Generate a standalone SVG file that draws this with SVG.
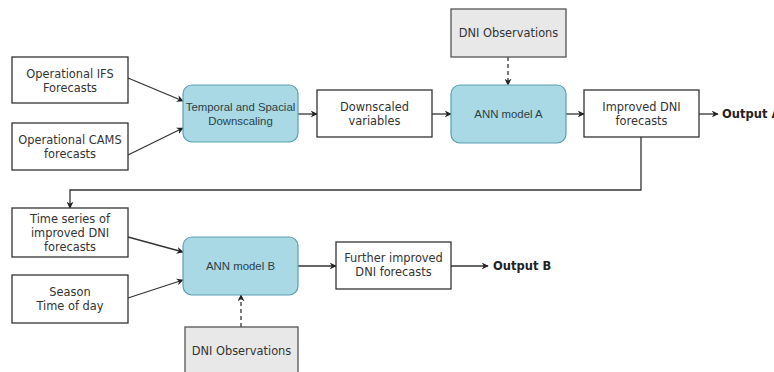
<svg xmlns="http://www.w3.org/2000/svg" width="774" height="372" viewBox="0 0 774 372">
  <style>
    .box { fill: #ffffff; stroke: #333333; stroke-width: 1.3; }
    .obs { fill: #e8e8e8; stroke: #555555; stroke-width: 1.3; }
    .model { fill: #a9d9e4; stroke: #5a9fb1; stroke-width: 1.2; }
    .t { font-family: "DejaVu Sans", Verdana, sans-serif; font-size: 11.4px; fill: #333333; text-anchor: middle; }
    .tm { font-family: "Liberation Sans", Arial, sans-serif; font-size: 11.4px; fill: #2b3f47; text-anchor: middle; }
    .out { font-family: "DejaVu Sans", Verdana, sans-serif; font-size: 11.5px; font-weight: bold; fill: #222222; }
    .edge { fill: none; stroke: #333333; stroke-width: 1.3; }
    .dash { stroke-dasharray: 4 3; }
  </style>
  <defs>
    <marker id="arrow" viewBox="0 0 10 10" refX="9" refY="5" markerWidth="7" markerHeight="7" markerUnits="userSpaceOnUse" orient="auto">
      <path d="M0,0 L10,5 L0,10 L3,5 Z" fill="#222222"/>
    </marker>
  </defs>
  <rect width="774" height="372" fill="#ffffff"/>

  <!-- connectors -->
  <g id="connectors">
    <line class="edge" x1="128" y1="78" x2="183" y2="101" marker-end="url(#arrow)"/>
    <line class="edge" x1="128" y1="155" x2="183" y2="128" marker-end="url(#arrow)"/>
    <line class="edge" x1="298" y1="114" x2="317" y2="114" marker-end="url(#arrow)"/>
    <line class="edge" x1="432" y1="114" x2="451" y2="114" marker-end="url(#arrow)"/>
    <line class="edge dash" x1="508" y1="57" x2="508" y2="85" marker-end="url(#arrow)"/>
    <line class="edge" x1="566" y1="114" x2="584" y2="114" marker-end="url(#arrow)"/>
    <line class="edge" x1="699" y1="114" x2="718" y2="114" marker-end="url(#arrow)"/>
    <polyline class="edge" points="641,137 641,190 70,190 70,208" marker-end="url(#arrow)"/>
    <line class="edge" x1="128" y1="237" x2="183" y2="252" marker-end="url(#arrow)"/>
    <line class="edge" x1="128" y1="298" x2="183" y2="280" marker-end="url(#arrow)"/>
    <line class="edge dash" x1="241" y1="327" x2="241" y2="295" marker-end="url(#arrow)"/>
    <line class="edge" x1="298" y1="266" x2="336" y2="266" marker-end="url(#arrow)"/>
    <line class="edge" x1="451" y1="266" x2="488" y2="266" marker-end="url(#arrow)"/>
  </g>

  <g id="ifs">
    <rect class="box" x="12" y="57" width="116" height="46"/>
    <text class="t" x="70" y="78">Operational IFS</text>
    <text class="t" x="70" y="92">Forecasts</text>
  </g>
  <g id="cams">
    <rect class="box" x="12" y="123" width="116" height="47"/>
    <text class="t" x="70" y="144">Operational CAMS</text>
    <text class="t" x="70" y="158">forecasts</text>
  </g>
  <g id="downscaling">
    <rect class="model" x="183" y="85" width="115" height="57" rx="9"/>
    <text class="tm" x="240.5" y="111">Temporal and Spacial</text>
    <text class="tm" x="240.5" y="125">Downscaling</text>
  </g>
  <g id="downscaled">
    <rect class="box" x="317" y="90" width="115" height="47"/>
    <text class="t" x="374.5" y="111">Downscaled</text>
    <text class="t" x="374.5" y="125">variables</text>
  </g>
  <g id="obs-a">
    <rect class="obs" x="451" y="9" width="115" height="48"/>
    <text class="t" x="508.5" y="37">DNI Observations</text>
  </g>
  <g id="ann-a">
    <rect class="model" x="451" y="85" width="115" height="58" rx="9"/>
    <text class="tm" x="508.5" y="118">ANN model A</text>
  </g>
  <g id="improved">
    <rect class="box" x="584" y="90" width="115" height="47"/>
    <text class="t" x="641.5" y="111">Improved DNI</text>
    <text class="t" x="641.5" y="125">forecasts</text>
  </g>
  <g id="output-a">
    <text class="out" x="722" y="118">Output A</text>
  </g>
  <g id="timeseries">
    <rect class="box" x="12" y="208" width="116" height="49"/>
    <text class="t" x="70" y="223">Time series of</text>
    <text class="t" x="70" y="237">improved DNI</text>
    <text class="t" x="70" y="251">forecasts</text>
  </g>
  <g id="season">
    <rect class="box" x="12" y="275" width="116" height="48"/>
    <text class="t" x="70" y="296">Season</text>
    <text class="t" x="70" y="310">Time of day</text>
  </g>
  <g id="ann-b">
    <rect class="model" x="183" y="237" width="115" height="58" rx="9"/>
    <text class="tm" x="240.5" y="270">ANN model B</text>
  </g>
  <g id="obs-b">
    <rect class="obs" x="185" y="327" width="113" height="50"/>
    <text class="t" x="241.5" y="355">DNI Observations</text>
  </g>
  <g id="further">
    <rect class="box" x="336" y="242" width="115" height="47"/>
    <text class="t" x="393.5" y="262">Further improved</text>
    <text class="t" x="393.5" y="276">DNI forecasts</text>
  </g>
  <g id="output-b">
    <text class="out" x="493" y="270">Output B</text>
  </g>
</svg>
